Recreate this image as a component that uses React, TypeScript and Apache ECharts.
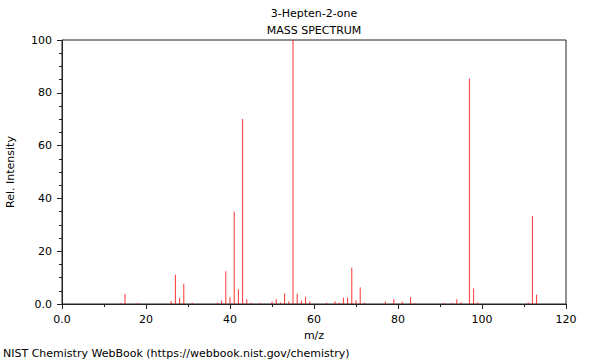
import React, { useEffect, useRef } from "react";
import * as echarts from "echarts";

const titleText = "3-Hepten-2-one";
const subtitleText = "MASS SPECTRUM";
const footerText = "NIST Chemistry WebBook (https://webbook.nist.gov/chemistry)";
const xAxisName = "m/z";
const yAxisName = "Rel. Intensity";

const mzValues = [
  14, 15, 18, 26, 27, 28, 29, 31, 37, 38, 39, 40, 41, 42, 43, 44, 45, 47, 50, 51,
  52, 53, 54, 55, 56, 57, 58, 59, 63, 65, 66, 67, 68, 69, 70, 71, 72, 77, 79, 81,
  83, 84, 91, 93, 94, 95, 97, 98, 99, 111, 112, 113,
];
const intensities = [
  0.3, 3.8, 0.3, 1.1, 11.1, 2.3, 7.7, 0.5, 0.5, 1.3, 12.4, 2.5, 35.0, 5.6, 70.1, 1.8, 0.4, 0.3, 0.9, 1.8,
  0.6, 4.0, 1.0, 100, 3.9, 1.3, 2.8, 1.0, 0.5, 1.0, 0.5, 2.4, 2.4, 13.8, 1.4, 6.3, 0.5, 1.0, 1.8, 0.9,
  2.6, 0.3, 0.3, 0.3, 1.8, 0.6, 85.4, 5.9, 0.6, 0.6, 33.4, 3.5,
];

const FONT = "DejaVu Sans";

export default function App() {
  const ref = useRef<HTMLDivElement>(null);
  useEffect(() => {
    document.body.style.margin = "0";
    if (!ref.current) return;
    const chart = echarts.init(ref.current, undefined, { renderer: "svg" });
    const data = mzValues.map((m, i) => [m, intensities[i]]);
    chart.setOption({
      animation: false,
      backgroundColor: "#fff",
      textStyle: { fontFamily: FONT },
      grid: {
        left: 62,
        right: 34,
        top: 40,
        bottom: 56,
        containLabel: false,
        outerBoundsMode: "none",
        show: true,
        borderColor: "#222",
        borderWidth: 1,
        backgroundColor: "transparent",
      },
      graphic: [
        {
          type: "text",
          x: 314,
          y: 13,
          style: { text: titleText, font: `11px "${FONT}"`, fill: "#000", align: "center", verticalAlign: "middle" },
        },
        {
          type: "text",
          x: 314,
          y: 30,
          style: { text: subtitleText, font: `11px "${FONT}"`, fill: "#000", align: "center", verticalAlign: "middle" },
        },
        {
          type: "text",
          x: 3,
          y: 353,
          style: { text: footerText, font: `11px "${FONT}"`, fill: "#000", align: "left", verticalAlign: "middle" },
        },
      ],
      xAxis: {
        type: "value",
        min: 0,
        max: 120,
        interval: 20,
        name: xAxisName,
        nameLocation: "middle",
        nameGap: 26,
        nameTextStyle: { fontFamily: FONT, fontSize: 11, color: "#000" },
        axisLine: { show: true, lineStyle: { color: "#222", width: 1 } },
        axisTick: { show: true, length: 5, lineStyle: { color: "#222" } },
        minorTick: { show: true, splitNumber: 2, length: 3, lineStyle: { color: "#222" } },
        splitLine: { show: false },
        axisLabel: {
          fontFamily: FONT,
          fontSize: 11,
          color: "#000",
          margin: 10,
          formatter: (v: number) => (v === 0 ? "0.0" : String(v)),
        },
      },
      yAxis: {
        type: "value",
        min: 0,
        max: 100,
        interval: 20,
        name: yAxisName,
        nameLocation: "middle",
        nameGap: 46,
        nameTextStyle: { fontFamily: FONT, fontSize: 11, color: "#000" },
        axisLine: { show: true, lineStyle: { color: "#222", width: 1 } },
        axisTick: { show: true, length: 5, lineStyle: { color: "#222" } },
        minorTick: { show: true, splitNumber: 4, length: 3, lineStyle: { color: "#222" } },
        splitLine: { show: false },
        axisLabel: {
          fontFamily: FONT,
          fontSize: 11,
          color: "#000",
          margin: 10,
          formatter: (v: number) => (v === 0 ? "0.0" : String(v)),
        },
      },
      series: [
        {
          type: "custom",
          data,
          clip: true,
          renderItem: (_params: any, api: any) => {
            const x = api.value(0);
            const y = api.value(1);
            const p0 = api.coord([x, 0]);
            const p1 = api.coord([x, y]);
            return {
              type: "line",
              shape: { x1: p0[0], y1: p0[1], x2: p1[0], y2: p1[1] },
              style: { stroke: "#ff0000", lineWidth: 1, opacity: 0.8 },
            };
          },
        },
      ],
    });
    return () => chart.dispose();
  }, []);
  return <div ref={ref} style={{ width: 600, height: 360 }} />;
}
